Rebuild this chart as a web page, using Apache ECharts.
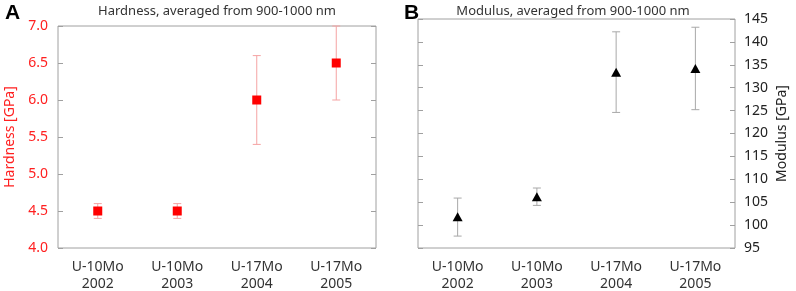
<!DOCTYPE html>
<html>
<head>
<meta charset="utf-8">
<script src="https://cdn.jsdelivr.net/npm/echarts@6/dist/echarts.min.js"></script>
<style>
  html, body { margin: 0; padding: 0; background: #fff; }
  #chart { width: 796px; height: 291px; }
</style>
</head>
<body>
<div id="chart"></div>
<script>
// data
const categories = ['U-10Mo\n2002', 'U-10Mo\n2003', 'U-17Mo\n2004', 'U-17Mo\n2005'];
const hardness = [4.5, 4.5, 6.0, 6.5];
const hardnessLow = [4.4, 4.4, 5.4, 6.0];
const hardnessHigh = [4.6, 4.6, 6.6, 7.0];
const modulus = [101.8, 106.2, 133.4, 134.2];
const modulusLow = [97.6, 104.3, 124.6, 125.2];
const modulusHigh = [105.9, 108.1, 142.2, 143.2];

const font = 'Noto Sans';
const axisGray = '#a0a0a0';

const chart = echarts.init(document.getElementById('chart'));

// error bar renderer
const errorBar = (color) => (params, api) => {
  const x = api.value(0);
  const hi = api.coord([x, api.value(2)]);
  const lo = api.coord([x, api.value(1)]);
  const w = 4;
  const style = { stroke: color, lineWidth: 1 };
  return {
    type: 'group',
    children: [
      { type: 'line', shape: { x1: hi[0], y1: hi[1], x2: lo[0], y2: lo[1] }, style },
      { type: 'line', shape: { x1: hi[0] - w, y1: hi[1], x2: hi[0] + w, y2: hi[1] }, style },
      { type: 'line', shape: { x1: lo[0] - w, y1: lo[1], x2: lo[0] + w, y2: lo[1] }, style }
    ]
  };
};

const yBase = (min, max, interval) => ({
  type: 'value',
  min, max, interval,
  axisLine: { show: false },
  axisTick: { show: true, inside: true, length: 5, lineStyle: { color: axisGray } },
  splitLine: { show: false }
});

const option = {
  animation: false,
  title: [
    { text: 'A', left: 0, top: -2, textStyle: { fontFamily: 'Liberation Sans', fontSize: 21, fontWeight: 'bold', color: '#000' } },
    { text: 'B', left: 399, top: -2, textStyle: { fontFamily: 'Liberation Sans', fontSize: 21, fontWeight: 'bold', color: '#000' } },
    { text: 'Hardness, averaged from 900-1000 nm', left: 212, top: 0, textAlign: 'center',
      textStyle: { fontFamily: font, fontSize: 13, fontWeight: 'normal', color: '#333' } },
    { text: 'Modulus, averaged from 900-1000 nm', left: 568, top: 0, textAlign: 'center',
      textStyle: { fontFamily: font, fontSize: 13, fontWeight: 'normal', color: '#333' } }
  ],
  grid: [
    { left: 58, right: 420, top: 26, bottom: 43, show: true, borderColor: axisGray, borderWidth: 1, outerBoundsMode: 'none' },
    { left: 418, right: 61, top: 19, bottom: 43, show: true, borderColor: axisGray, borderWidth: 1, outerBoundsMode: 'none' }
  ],
  xAxis: [0, 1].map(i => ({
    type: 'category',
    gridIndex: i,
    data: categories,
    axisLine: { show: false },
    axisTick: { show: false },
    axisLabel: { fontFamily: font, fontSize: 14, color: '#333', lineHeight: 17, margin: 11 }
  })),
  yAxis: [
    Object.assign(yBase(4, 7, 0.5), {
      gridIndex: 0, position: 'left',
      name: 'Hardness [GPa]', nameLocation: 'middle', nameGap: 41,
      nameTextStyle: { fontFamily: font, fontSize: 14, color: '#ff2020' },
      axisLabel: { fontFamily: font, fontSize: 14, color: '#ff2020', margin: 10, formatter: v => v.toFixed(1) }
    }),
    Object.assign(yBase(4, 7, 0.5), { gridIndex: 0, position: 'right', axisLabel: { show: false } }),
    Object.assign(yBase(95, 145, 5), {
      gridIndex: 1, position: 'right',
      name: 'Modulus [GPa]', nameLocation: 'middle', nameGap: 40, nameRotate: 90,
      nameTextStyle: { fontFamily: font, fontSize: 14, color: '#222' },
      axisLabel: { fontFamily: font, fontSize: 14, color: '#222', margin: 9 }
    }),
    Object.assign(yBase(95, 145, 5), { gridIndex: 1, position: 'left', axisLabel: { show: false } })
  ],
  series: [
    {
      type: 'custom',
      xAxisIndex: 0, yAxisIndex: 0,
      renderItem: errorBar('#f5a3a3'),
      data: categories.map((c, i) => [i, hardnessLow[i], hardnessHigh[i]]),
      z: 1
    },
    {
      type: 'scatter',
      xAxisIndex: 0, yAxisIndex: 0,
      symbol: 'rect', symbolSize: 9,
      itemStyle: { color: '#ff0000', opacity: 1 },
      data: hardness,
      z: 2
    },
    {
      type: 'custom',
      xAxisIndex: 1, yAxisIndex: 2,
      renderItem: errorBar('#a8a8a8'),
      data: categories.map((c, i) => [i, modulusLow[i], modulusHigh[i]]),
      z: 1
    },
    {
      type: 'scatter',
      xAxisIndex: 1, yAxisIndex: 2,
      symbol: 'triangle', symbolSize: [10, 9],
      itemStyle: { color: '#000', opacity: 1 },
      data: modulus,
      z: 2
    }
  ]
};

chart.setOption(option);
</script>
</body>
</html>
